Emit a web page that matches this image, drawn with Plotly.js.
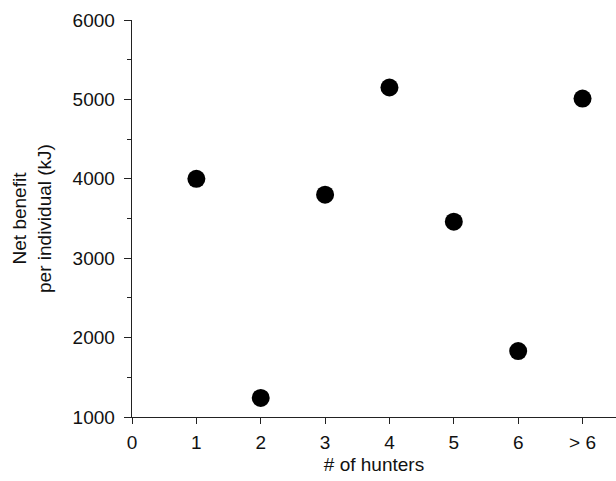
<!DOCTYPE html>
<html><head><meta charset="utf-8">
<script src="https://cdn.plot.ly/plotly-3.0.1.min.js"></script>
<style>body{margin:0;background:#fff}#c{width:616px;height:481px}</style>
</head><body><div id="c"></div>
<script>
const hunterPos = [1, 2, 3, 4, 5, 6, 7];
const hunterLabels = ["1", "2", "3", "4", "5", "6", "> 6"];
const netBenefit = [4000, 1240, 3800, 5150, 3460, 1830, 5010];
const xTickVals = [0, 1, 2, 3, 4, 5, 6, 7];
const xTickText = ["0"].concat(hunterLabels);

const font = {family: "Liberation Sans, Arial, sans-serif", size: 19, color: "#111"};
Plotly.newPlot("c", [{
  x: hunterPos, y: netBenefit, type: "scatter", mode: "markers",
  marker: {color: "#000", size: 18}, hoverinfo: "none", showlegend: false
}], {
  width: 616, height: 481,
  margin: {l: 132, r: 0, t: 20, b: 64},
  paper_bgcolor: "#fff", plot_bgcolor: "#fff",
  font: font,
  xaxis: {
    range: [0, 7.52], tickvals: xTickVals, ticktext: xTickText,
    showgrid: false, zeroline: false, showline: true, linecolor: "#222", linewidth: 1.3,
    ticks: "outside", ticklen: 6, tickcolor: "#222", ticklabelstandoff: 2,
    title: {text: "# of hunters", font: font, standoff: 5}
  },
  yaxis: {
    range: [1000, 6000], tickvals: [1000, 2000, 3000, 4000, 5000, 6000],
    showgrid: false, zeroline: false, showline: true, linecolor: "#222", linewidth: 1.3,
    ticks: "outside", ticklen: 7, tickcolor: "#222", ticklabelstandoff: 5,
    minor: {dtick: 500, tick0: 1000, ticks: "outside", ticklen: 4, tickcolor: "#222", showgrid: false},
    title: {text: "Net benefit<br>per individual (kJ)", font: font, standoff: 16}
  }
}, {staticPlot: true});
</script></body></html>
